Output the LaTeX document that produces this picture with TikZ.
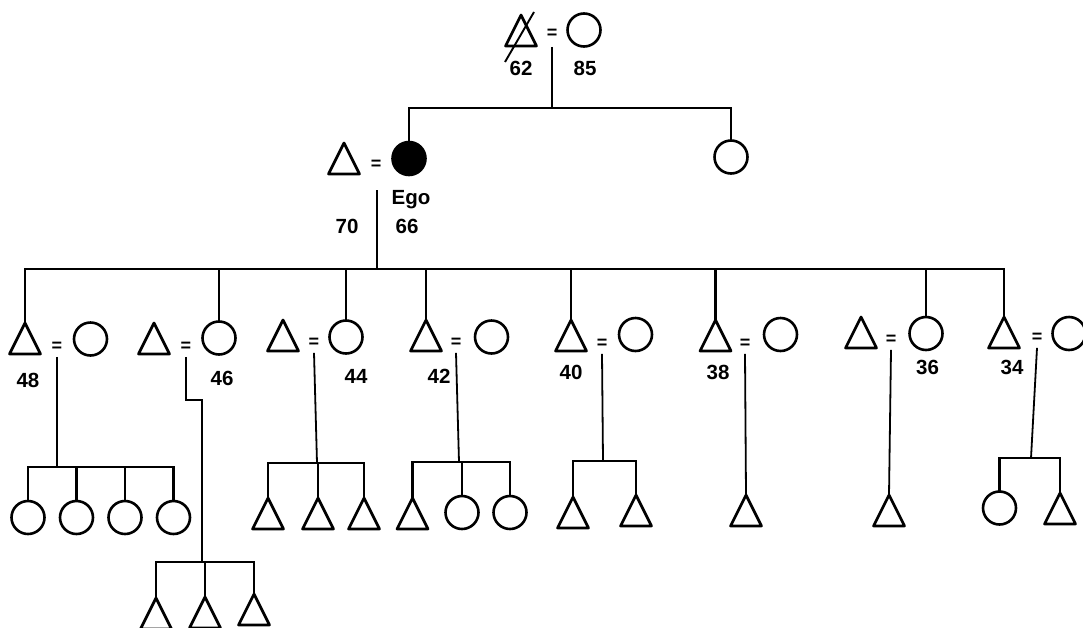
\documentclass[tikz,border=0pt]{standalone}
\usepackage{fontspec}
\setmainfont{Liberation Sans}
\usetikzlibrary{shapes.geometric}
\tikzset{
  tri/.style={isosceles triangle, isosceles triangle stretches, shape border rotate=90,
    minimum width=31, minimum height=31, inner sep=0, outer sep=0, draw,
    line width=2.7pt, line join=round, anchor=apex},
  circ/.style={circle, draw, line width=2.6pt, minimum size=33, inner sep=0, outer sep=0},
  fcirc/.style={circ, fill=black},
  eq/.style={inner sep=0, font=\bfseries\fontsize{18}{18}\selectfont},
  lbl/.style={inner sep=0, font=\bfseries\fontsize{20.5}{20.5}\selectfont},
  bar/.style={line width=2.7pt},
  drop/.style={line width=2.2pt},
  desc/.style={line width=1.8pt},
  thindesc/.style={line width=1.1pt},
}
\begin{document}
\begin{tikzpicture}[x=1pt,y=-1pt]
\useasboundingbox (0,0) rectangle (1083,627);
\clip (0,0) rectangle (1083,627);

% ---------- generation 1
\node[tri] (f0) at (521,15) {};
\draw[line width=1.9pt] ([shift={(13,-3)}]f0.apex) -- ([shift={(-16,47)}]f0.apex);
\node[eq] (e0) at (552,34) {=};
\node[circ] (m0) at (584,30) {};
\node[lbl] (l0h) at (521,68) {62};
\node[lbl] (l0w) at (585,68) {85};
\coordinate (b0) at (552,108);
\draw[desc] ([yshift=-8pt]e0.south) -- (b0);

% ---------- generation 2
\node[tri] (h1) at (344,143) {};
\node[eq] (e1) at (376,165) {=};
\node[fcirc] (ego) at (409,158.5) {};
\node[circ] (sis) at (731,157) {};
\node[lbl] (lego) at (411,200) {Ego};
\node[lbl] (l66) at (407,226) {66};
\node[lbl] (l70) at (347,226) {70};
\draw[bar] (ego.north) |- (b0) -| (sis.north);
\coordinate (d1) at (377,190);
\coordinate (b1) at (377,269);
\draw[desc] (d1) -- (b1);

% ---------- generation 3
\node[tri] (t48) at (25,323) {};
\node[eq] (e48) at (57,347) {=};
\node[circ] (w48) at (90.5,339) {};
\node[lbl] (l48) at (28,380) {48};

\node[tri] (t46h) at (154,323) {};
\node[eq] (e46) at (186,347) {=};
\node[circ] (c46) at (219,338) {};
\node[lbl] (l46) at (222,378) {46};

\node[tri] (t44h) at (283,320) {};
\node[eq] (e44) at (314,343) {=};
\node[circ] (c44) at (346,337) {};
\node[lbl] (l44) at (356,376) {44};

\node[tri] (t42) at (426,320) {};
\node[eq] (e42) at (456,343) {=};
\node[circ] (w42) at (491.5,337) {};
\node[lbl] (l42) at (439,376) {42};

\node[tri] (t40) at (571,320) {};
\node[eq] (e40) at (602,344) {=};
\node[circ] (w40) at (635.5,334.5) {};
\node[lbl] (l40) at (571,372) {40};

\node[tri] (t38) at (715.5,320) {};
\node[eq] (e38) at (745,344) {=};
\node[circ] (w38) at (780.5,334.5) {};
\node[lbl] (l38) at (718,372) {38};

\node[tri] (t36h) at (861,317) {};
\node[eq] (e36) at (891,340) {=};
\node[circ] (c36) at (926,333.5) {};
\node[lbl] (l36) at (927.5,367) {36};

\node[tri] (t34) at (1004,317) {};
\node[eq] (e34) at (1037,338) {=};
\node[circ] (w34) at (1069,333.5) {};
\node[lbl] (l34) at (1012,367) {34};

\draw[bar] (t48.apex) |- (b1) -| (t34.apex);
\foreach \n in {c46.north,c44.north,t42.apex,t40.apex,t38.apex,c36.north}
  \draw[drop] (\n) -- (\n |- b1);

% ---------- generation 4
% family 48
\node[circ] (g48a) at (28,517.5) {};
\node[circ] (g48b) at (76.5,517.5) {};
\node[circ] (g48c) at (125,517.5) {};
\node[circ] (g48d) at (173.5,517.5) {};
\coordinate (b48) at (57,467);
\draw[thindesc] ([yshift=-5pt]e48.south) -- (b48);
\draw[bar] (g48a.north) |- (b48) -| (g48d.north);
\draw[drop] (g48b.north) -- (g48b.north |- b48);
\draw[drop] (g48c.north) -- (g48c.north |- b48);

% family 46
\node[tri] (g46a) at (156,598) {};
\node[tri] (g46b) at (205,597) {};
\node[tri] (g46c) at (254,594) {};
\coordinate (k46) at (202,400);
\coordinate (b46) at (202,562);
\draw[desc] ([yshift=-5pt]e46.south) |- (k46) -- (b46);
\draw[bar] (g46a.apex) |- (b46) -| (g46c.apex);
\draw[drop] (g46b.apex) -- (g46b.apex |- b46);

% family 44
\node[tri] (g44a) at (268,498) {};
\node[tri] (g44b) at (318,498) {};
\node[tri] (g44c) at (364,498) {};
\coordinate (b44) at (317,463);
\draw[desc] ([yshift=-5pt]e44.south) -- (b44);
\draw[bar] (g44a.apex) |- (b44) -| (g44c.apex);
\draw[drop] (g44b.apex) -- (g44b.apex |- b44);

% family 42
\node[tri] (g42a) at (412.5,498) {};
\node[circ] (g42b) at (462,512.5) {};
\node[circ] (g42c) at (510,512.5) {};
\coordinate (b42) at (459,462);
\draw[desc] ([yshift=-5pt]e42.south) -- (b42);
\draw[bar] (g42a.apex) |- (b42) -| (g42c.north);
\draw[drop] (g42b.north) -- (g42b.north |- b42);

% family 40
\node[tri] (g40a) at (573,497) {};
\node[tri] (g40b) at (636,495) {};
\coordinate (b40) at (603,461);
\draw[desc] ([yshift=-5pt]e40.south) -- (b40);
\draw[bar] (g40a.apex) |- (b40) -| (g40b.apex);

% family 38
\node[tri] (g38) at (746,495) {};
\draw[desc] ([yshift=-5pt]e38.south) -- (g38.apex);

% family 36
\node[tri] (g36) at (889,495) {};
\draw[desc] ([yshift=-5pt]e36.south) -- (g36.apex);

% family 34
\node[circ] (g34a) at (999.5,508) {};
\node[tri] (g34b) at (1060,493) {};
\coordinate (b34) at (1031,458);
\draw[desc] ([yshift=-5pt]e34.south) -- (b34);
\draw[bar] (g34a.north) |- (b34) -| (g34b.apex);
\end{tikzpicture}
\end{document}
